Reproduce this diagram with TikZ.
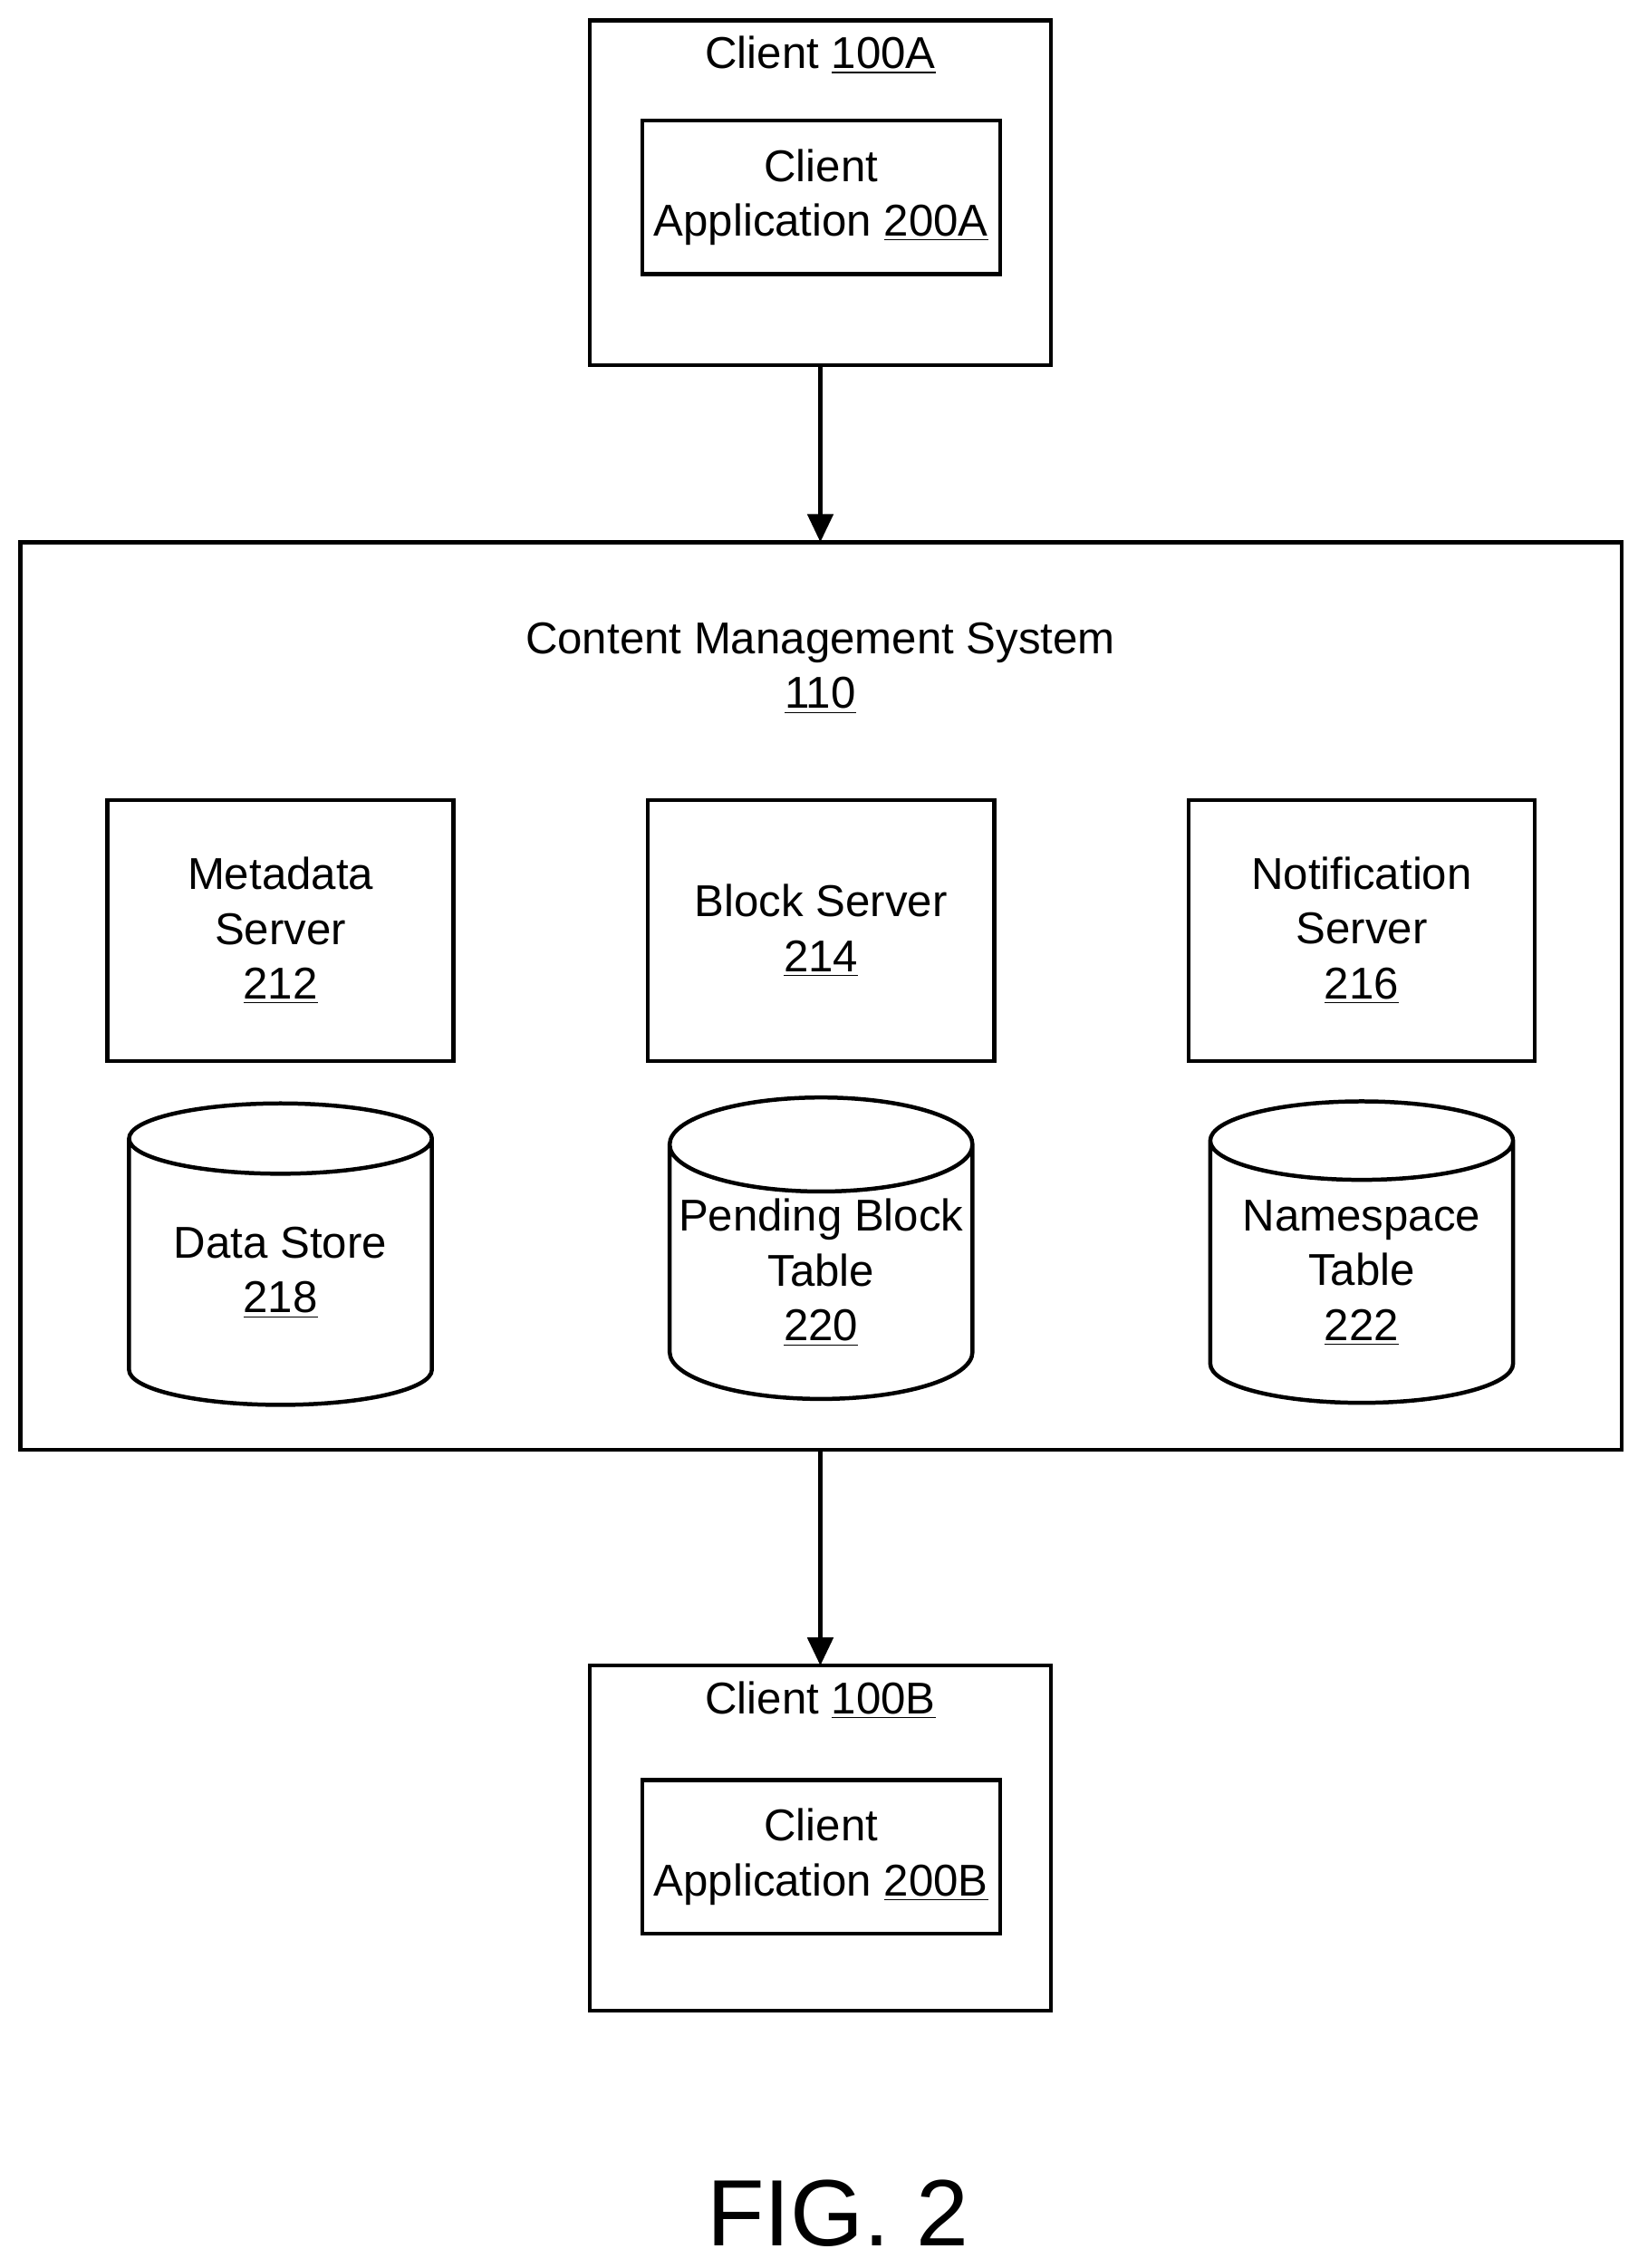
\documentclass[tikz,border=0pt]{standalone}
\usepackage{fontspec}
\setmainfont{Liberation Sans}
\usetikzlibrary{shapes.geometric, arrows.meta}

\tikzset{
  box/.style={draw, line width=1.6pt, inner sep=0pt, align=center},
  store/.style={draw, line width=1.6pt, cylinder, shape border rotate=90, aspect=0.33,
    minimum width=4.18cm, minimum height=4.16cm, inner sep=0pt, align=center},
  link/.style={line width=1.6pt, -{Triangle[length=11pt,width=10pt]}},
  txt/.style={font=\fontsize{17.5}{21.5}\selectfont, align=center}
}

\begin{document}
\begin{tikzpicture}[x=0.02cm,y=-0.02cm]
\useasboundingbox (0,0) rectangle (1130,1564.6);
% client A
\draw[line width=1.6pt] (407,14) rectangle (725,252);
\node[txt] (ta) at (566,38) {Client \underline{100A}};
\node[box, txt, minimum width=4.94cm, minimum height=2.12cm] (appa) at (566.5,136) {Client\\Application \underline{200A}};
\coordinate (abot) at (566,252);
% content management system
\draw[line width=1.6pt] (14,374) rectangle (1119,1000);
\coordinate (ctop) at (566,374);
\coordinate (cbot) at (566,1000);
\node[txt] (tcms) at (566,461) {Content Management System\\\underline{110}};
\node[box, txt, minimum width=4.78cm, minimum height=3.6cm] (meta) at (193.5,642) {Metadata\\Server\\\underline{212}};
\node[box, txt, minimum width=4.78cm, minimum height=3.6cm] (block) at (566.5,642) {Block Server\\\underline{214}};
\node[box, txt, minimum width=4.78cm, minimum height=3.6cm] (notif) at (939.5,642) {Notification\\Server\\\underline{216}};
\node[store, txt] (data) at (193.5,878) {Data Store\\\underline{218}};
\node[store, txt] (pend) at (566.5,878) {Pending Block\\Table\\\underline{220}};
\node[store, txt] (nspace) at (939.5,878) {Namespace\\Table\\\underline{222}};
% client B
\draw[line width=1.6pt] (407,1149) rectangle (725,1387);
\coordinate (btop) at (566,1149);
\node[txt] (tb) at (566,1173) {Client \underline{100B}};
\node[box, txt, minimum width=4.94cm, minimum height=2.12cm] (appb) at (566.5,1281) {Client\\Application \underline{200B}};
% arrows
\draw[link] (abot) -- (ctop);
\draw[link] (cbot) -- (btop);
\node[font=\fontsize{37}{39}\selectfont] (fig) at (578,1527) {FIG. 2};
\end{tikzpicture}
\end{document}
